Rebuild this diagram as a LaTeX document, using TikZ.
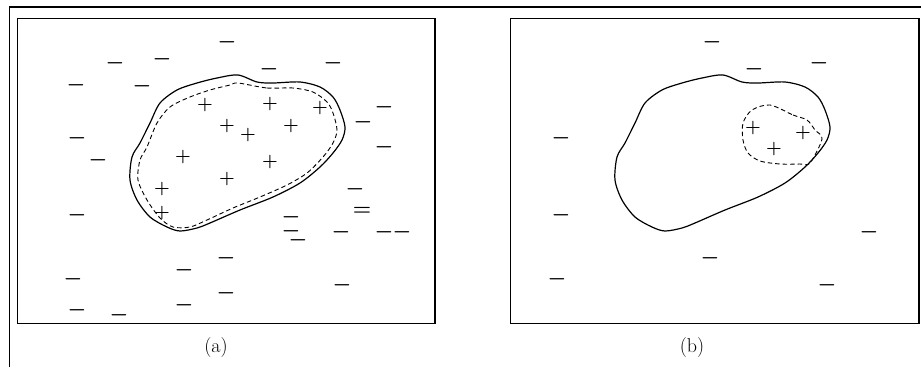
\documentclass[tikz,border=0pt]{standalone}
\usepackage{fix-cm}
\usepackage{tikz}
\usetikzlibrary{positioning}

\tikzset{
  negpt/.style={inner sep=0pt, text height=6pt, text depth=-4.5pt,
    font=\fontsize{21}{21}\selectfont\boldmath},
  eqpt/.style={inner sep=0pt, font=\fontsize{21}{21}\selectfont\boldmath},
  pospt/.style={inner sep=0pt, font=\fontsize{18}{18}\selectfont\boldmath},
  panelbox/.style={line width=1.5pt},
  truebound/.style={line width=1.2pt},
  learnbound/.style={line width=0.9pt, dash pattern=on 4.5pt off 3pt},
  caption/.style={font=\fontsize{20}{22}\selectfont}
}

\begin{document}
\begin{tikzpicture}[x=1pt, y=-1pt]
  \useasboundingbox (0,0) rectangle (921,367);
  % Page frame
  \draw[line width=1.8pt] (9.5,367) -- (9.5,7) -- (921,7);
  % Panel boxes
  \draw[panelbox] (17.5,18.5) rectangle (435,323.5);
  \draw[panelbox] (510.5,18.5) rectangle (919,323.5);
  % Panel (a): true region and learned region
  \draw[truebound] plot[smooth cycle, tension=0.5] coordinates {
    (238,75) (257,82) (273,83) (300,82) (320,87) (333,97) (340,110)
    (345,127) (342,140) (333,153) (320,167) (300,183) (273,197)
    (240,210) (210,223) (197,228) (180,231) (167,227) (150,217)
    (137,200) (130,180) (132,157) (140,143) (150,123) (160,103)
    (177,90) (197,83) (217,78)};
  \draw[learnbound] plot[smooth cycle, tension=0.5] coordinates {
    (238,83) (267,88) (293,88) (313,92) (327,102) (333,113) (337,130)
    (333,143) (323,157) (307,173) (287,185) (260,197) (233,208)
    (207,220) (190,227) (173,227) (160,218) (147,200) (138,180)
    (140,160) (147,147) (157,123) (170,107) (190,97) (210,90) (230,85)};
  % Panel (a): negative examples
  \foreach \x/\y [count=\i] in {227/44.5, 115/65, 162/61, 269/71, 333/65,
      76/87, 142/88, 384/109, 363/124, 77/140, 384/149, 98/162, 355/191,
      77/217, 291/219, 291/233, 298/242, 341/234,
      384/234, 402/234, 226/260, 184/272, 73/281, 342/287, 226/295,
      184/307, 77/312, 119/317} {
    \node[negpt] (am\i) at (\x,\y) {$-$};
  }
  \node[eqpt] (ameq) at (362,211) {$=$};
  % Panel (a): positive examples
  \foreach \x/\y [count=\i] in {205/105, 270/104, 320/108, 227/126,
      291/126, 248/135, 183/157, 270/162, 227/179, 162/189, 162/213} {
    \node[pospt] (ap\i) at (\x,\y) {$+$};
  }
  \node[caption] (capa) at (216,348) {(a)};
  % Panel (b): same true region, small learned region
  \begin{scope}[xshift=485pt]
    \draw[truebound] plot[smooth cycle, tension=0.5] coordinates {
      (238,75) (257,82) (273,83) (300,82) (320,87) (333,97) (340,110)
      (345,127) (342,140) (333,153) (320,167) (300,183) (273,197)
      (240,210) (210,223) (197,228) (180,231) (167,227) (150,217)
      (137,200) (130,180) (132,157) (140,143) (150,123) (160,103)
      (177,90) (197,83) (217,78)};
  \end{scope}
  \draw[learnbound] plot[smooth cycle, tension=0.5] coordinates {
    (770,105) (793,115) (807,120) (815,130) (822,139) (810,163)
    (800,164) (780,164) (760,161) (748,153) (743,140) (743,123)
    (752,110)};
  % Panel (b): examples
  \foreach \x/\y [count=\i] in {712/44.5, 754/71, 819/65, 561/140, 561/217,
      557/281, 710/260, 869/234, 827/287} {
    \node[negpt] (bm\i) at (\x,\y) {$-$};
  }
  \foreach \x/\y [count=\i] in {753/128, 803/133, 774/149} {
    \node[pospt] (bp\i) at (\x,\y) {$+$};
  }
  \node[caption] (capb) at (692,348) {(b)};
\end{tikzpicture}
\end{document}
